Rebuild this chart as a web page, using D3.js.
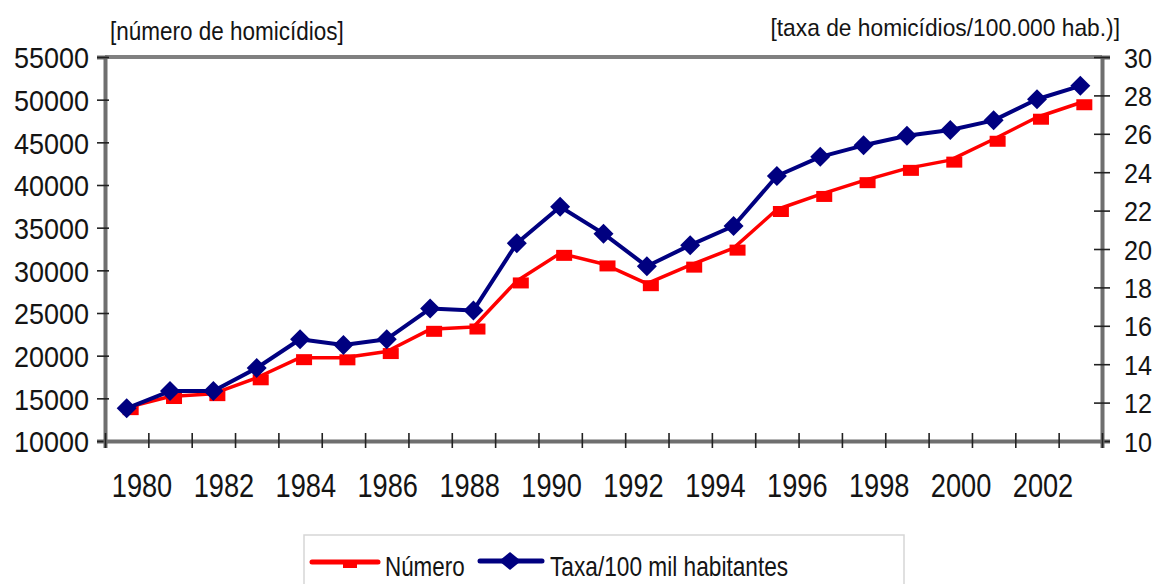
<!DOCTYPE html>
<html><head><meta charset="utf-8">
<script src="https://cdn.jsdelivr.net/npm/d3@7"></script>
<style>
body{margin:0;background:#fff}
svg text{font-family:"Liberation Sans",Arial,sans-serif;fill:#141414}
</style>
</head><body>
<svg id="chart" width="1159" height="584"></svg>
<script>
// ---- data ----
const years = [1980,1981,1982,1983,1984,1985,1986,1987,1988,1989,1990,1991,1992,1993,1994,1995,1996,1997,1998,1999,2000,2001,2002];
const numero = [13910,15213,15550,17408,19767,19747,20481,23087,23357,28757,31989,30750,28435,30610,32603,37129,38894,40507,41950,42914,45360,47943,49640];
const taxa = [11.7,12.6,12.6,13.8,15.3,15.0,15.3,16.9,16.8,20.3,22.2,20.8,19.1,20.2,21.2,23.8,24.8,25.4,25.9,26.2,26.7,27.8,28.5];
const xTickLabels = [1980,1982,1984,1986,1988,1990,1992,1994,1996,1998,2000,2002];
const leftTicks = [10000,15000,20000,25000,30000,35000,40000,45000,50000,55000];
const rightTicks = [10,12,14,16,18,20,22,24,26,28,30];
const leftTitle = "[número de homicídios]";
const rightTitle = "[taxa de homicídios/100.000 hab.)]";
const seriesNames = ["Número", "Taxa/100 mil habitantes"];

// ---- layout ----
const X0 = 105, X1 = 1102, Y0 = 57, Y1 = 441;
const svg = d3.select("#chart");

const xBand = d3.scaleBand().domain(years).range([X0, X1]).padding(0);
const bw = xBand.bandwidth();
const xc = d => xBand(d) + bw / 2;
const xIdx = d3.scaleLinear().domain([0, years.length]).range([X0, X1]);
const xLab = d3.scalePoint().domain(xTickLabels).range([142, 1043]);
const yL = d3.scaleLinear().domain([10000, 55000]).range([Y1, Y0]);
const yR = d3.scaleLinear().domain([10, 30]).range([Y1, Y0]);

const axisColor = "#6f6f6f";

// frame top line
svg.append("line").attr("x1", X0).attr("x2", X1).attr("y1", Y0).attr("y2", Y0)
  .attr("stroke", "#808080").attr("stroke-width", 4);

function styleAxis(g, sx, tx) {
  g.select(".domain").attr("stroke", axisColor).attr("stroke-width", 4);
  g.selectAll(".tick line").attr("stroke", "#222").attr("stroke-width", 1.6);
  g.selectAll("text").attr("transform", `scale(${sx},1)`);
}

// left axis
const gL = svg.append("g").attr("transform", `translate(${X0},0)`)
  .call(d3.axisLeft(yL).tickValues(leftTicks).tickFormat(d3.format("d")).tickSizeOuter(0).tickSize(8));
styleAxis(gL, 0.9);
gL.selectAll(".tick line").attr("x1", 4).attr("x2", -8);
gL.selectAll("text").attr("x", -16 / 0.9).attr("font-size", 30).attr("dy", "0.36em");

// right axis
const gR = svg.append("g").attr("transform", `translate(${X1},0)`)
  .call(d3.axisRight(yR).tickValues(rightTicks).tickFormat(d3.format("d")).tickSizeOuter(0).tickSize(8));
styleAxis(gR, 0.9);
gR.selectAll(".tick line").attr("x1", -8).attr("x2", 8);
gR.selectAll("text").attr("x", 22 / 0.9).attr("font-size", 28).attr("dy", "0.36em");

// bottom axis (ticks at category boundaries)
const gB = svg.append("g").attr("transform", `translate(0,${Y1})`)
  .call(d3.axisBottom(xIdx).tickValues(d3.range(years.length + 1)).tickFormat("").tickSizeOuter(0).tickSize(7));
gB.select(".domain").attr("stroke", axisColor).attr("stroke-width", 4);
gB.selectAll(".tick line").attr("stroke", "#222").attr("stroke-width", 1.6).attr("y1", -8).attr("y2", 7);

// x labels
const gX = svg.append("g").attr("transform", `translate(0,${Y1})`)
  .call(d3.axisBottom(xLab).tickSize(0).tickFormat(d3.format("d")));
gX.select(".domain").remove();
gX.selectAll("text").attr("font-size", 34).attr("y", 56).attr("dy", 0)
  .attr("x", function(){ return 0; })
  .attr("transform", "scale(0.8,1)");
// re-position tick groups for scaled text
gX.selectAll(".tick").each(function(d){
  const tx = xLab(d);
  d3.select(this).attr("transform", `translate(${tx},0)`);
});

// lines
const lineL = d3.line().x((d, i) => xc(years[i])).y(d => yL(d));
const lineR = d3.line().x((d, i) => xc(years[i])).y(d => yR(d));

svg.append("path").datum(numero).attr("d", lineL).attr("fill", "none")
  .attr("stroke", "#ff0000").attr("stroke-width", 3.5).attr("stroke-linejoin", "round");
svg.selectAll("rect.num").data(numero).join("rect").attr("class", "num")
  .attr("x", (d, i) => xc(years[i]) + 4 - 8).attr("y", d => yL(d) + 2 - 5.5)
  .attr("width", 16).attr("height", 11).attr("fill", "#ff0000");

svg.append("path").datum(taxa).attr("d", lineR).attr("fill", "none")
  .attr("stroke", "#000080").attr("stroke-width", 4).attr("stroke-linejoin", "round");
const diamond = "M0,-10L10,0L0,10L-10,0Z";
svg.selectAll("path.tx").data(taxa).join("path").attr("class", "tx")
  .attr("transform", (d, i) => `translate(${xc(years[i])},${yR(d)})`)
  .attr("d", diamond).attr("fill", "#000080");

// titles
function ctext(x, y, str, size, sx, anchor) {
  svg.append("g").attr("transform", `translate(${x},${y})`)
    .append("text").attr("transform", `scale(${sx},1)`)
    .attr("font-size", size).attr("text-anchor", anchor || "start").text(str);
}
ctext(110, 40, leftTitle, 25, 0.9, "start");
ctext(1120, 36, rightTitle, 24, 0.95, "end");

// legend
svg.append("rect").attr("x", 304).attr("y", 535).attr("width", 600).attr("height", 80)
  .attr("fill", "none").attr("stroke", "#d6d6d6").attr("stroke-width", 1.5);
svg.append("line").attr("x1", 312).attr("x2", 378).attr("y1", 562).attr("y2", 562)
  .attr("stroke", "#ff0000").attr("stroke-width", 5).attr("stroke-linecap", "round");
svg.append("rect").attr("x", 343).attr("y", 560).attr("width", 14).attr("height", 8).attr("fill", "#ff0000");
ctext(385, 576, seriesNames[0], 28, 0.8, "start");
svg.append("line").attr("x1", 480).attr("x2", 542).attr("y1", 561).attr("y2", 561)
  .attr("stroke", "#000080").attr("stroke-width", 5).attr("stroke-linecap", "round");
svg.append("path").attr("transform", "translate(510,561)").attr("d", "M0,-9L11,0L0,9L-11,0Z").attr("fill", "#000080");
ctext(550, 576, seriesNames[1], 28, 0.81, "start");
</script>
</body></html>
